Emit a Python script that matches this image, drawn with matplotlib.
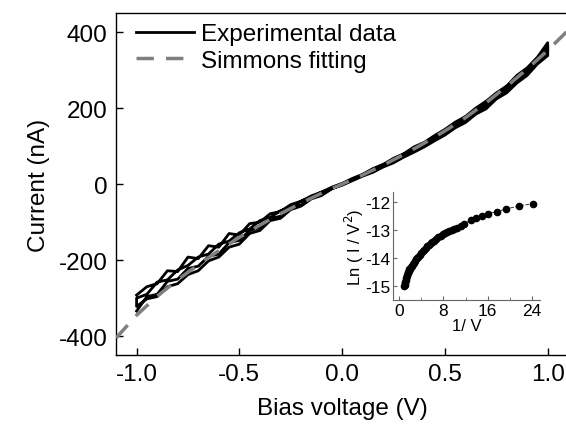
#!/usr/bin/env python3
"""I-V curve with Simmons fit and Fowler-Nordheim style inset."""

import matplotlib

matplotlib.use("Agg")
import matplotlib.pyplot as plt
import numpy as np

GRAY = "#7f7f7f"
INK = "black"

# voltage grid of the measured sweeps (V)
VOLTAGE = np.linspace(-1.0, 1.0, 41)

# measured current (nA), four sweeps, listed in ascending voltage
SWEEP_A = [-292, -270, -262, -228, -230, -192, -196, -162, -166, -130, -134,
           -104, -100, -78, -72, -54, -45, -31, -21, -8, 2, 15, 26, 41, 52, 68,
           80, 98, 110, 128, 144, 163, 178, 200, 218, 240, 258, 286, 306, 334,
           372]
SWEEP_B = [-322, -302, -296, -270, -262, -238, -228, -202, -192, -166, -158,
           -130, -122, -96, -90, -67, -58, -39, -30, -12, -3, 9, 21, 31, 45,
           56, 71, 84, 98, 114, 129, 148, 162, 184, 198, 224, 240, 266, 286,
           316, 338]
SWEEP_C = [-300, -290, -258, -252, -226, -214, -192, -184, -158, -150, -128,
           -118, -96, -88, -70, -61, -45, -35, -21, -12, 1, 12, 25, 37, 51, 63,
           79, 92, 108, 122, 141, 156, 177, 192, 215, 232, 256, 276, 303, 326,
           362]
SWEEP_D = [-334, -296, -290, -256, -250, -222, -216, -190, -184, -154, -148,
           -122, -114, -92, -84, -63, -55, -37, -27, -12, -1, 11, 23, 35, 48,
           60, 74, 88, 103, 118, 135, 151, 170, 188, 207, 226, 250, 270, 296,
           320, 350]

# Simmons fit
FIT_V = [-1.1, -1.0, -0.9, -0.8, -0.7, -0.6, -0.5, -0.4, -0.3, -0.2, -0.1, 0.0,
         0.1, 0.2, 0.3, 0.4, 0.5, 0.6, 0.7, 0.8, 0.9, 1.0, 1.1]
FIT_I = [-405, -345, -295, -252, -212, -175, -140, -108, -78, -50, -24, 0,
         24, 50, 78, 108, 140, 175, 214, 257, 303, 352, 405]

# inset: ln(I/V^2) against 1/V
INV_V = [1.0, 1.05, 1.1, 1.15, 1.2, 1.3, 1.4, 1.5, 1.6, 1.7, 1.8, 1.9, 2.0,
         2.15, 2.3, 2.5, 2.7, 2.9, 3.1, 3.3, 3.5, 3.75, 4.0, 4.25, 4.5, 4.8,
         5.1, 5.4, 5.7, 6.0, 6.3, 6.7, 7.1, 7.5, 7.9, 8.3, 8.7, 9.1, 9.5, 10.0,
         10.5, 11.1, 11.8, 12.9, 13.8, 14.9, 16.1, 17.6, 19.35, 21.6, 24.2]
LN_IV2 = [-15.0, -14.95, -14.9, -14.85, -14.8, -14.72, -14.65, -14.59, -14.54,
          -14.49, -14.45, -14.41, -14.38, -14.33, -14.29, -14.23, -14.17,
          -14.11, -14.05, -14.0, -13.95, -13.89, -13.83, -13.77, -13.71,
          -13.65, -13.59, -13.53, -13.48, -13.43, -13.38, -13.32, -13.26,
          -13.21, -13.16, -13.12, -13.08, -13.04, -13.0, -12.96, -12.92,
          -12.86, -12.78, -12.66, -12.58, -12.5, -12.42, -12.35, -12.25,
          -12.15, -12.06]

plt.rcParams.update(
    {
        "font.family": ["Liberation Sans", "DejaVu Sans"],
        "font.size": 17.5,
        "axes.unicode_minus": False,
        "axes.linewidth": 1.0,
    }
)

fig = plt.figure(figsize=(5.66, 4.27), dpi=100)
ax = fig.add_axes([0.205, 0.166, 0.799, 0.801])

# forward and reverse sweeps joined into one trace
volts = np.concatenate([VOLTAGE, VOLTAGE[::-1], VOLTAGE, VOLTAGE[::-1]])
amps = np.concatenate([SWEEP_A, SWEEP_B[::-1], SWEEP_C, SWEEP_D[::-1]])
ax.plot(volts, amps, color=INK, lw=2.0, label="Experimental data", zorder=2)
ax.plot(FIT_V, FIT_I, color=GRAY, lw=2.5, dashes=(5, 3.5),
        label="Simmons fitting", zorder=3)

ax.set_xlim(-1.1, 1.1)
ax.set_ylim(-450, 450)
ax.set_xticks([-1.0, -0.5, 0.0, 0.5, 1.0])
ax.set_xticklabels(["-1.0", "-0.5", "0.0", "0.5", "1.0"])
ax.set_yticks([-400, -200, 0, 200, 400])
ax.tick_params(direction="in", length=5, width=1.0, labelsize=17.5, pad=6)
ax.set_xlabel("Bias voltage (V)", fontsize=17.5, labelpad=8)
ax.set_ylabel("Current (nA)", fontsize=17.5, labelpad=6)
ax.legend(loc="upper left", bbox_to_anchor=(-0.005, 1.035), frameon=False,
          fontsize=17.5, handlelength=2.4, handletextpad=0.3, labelspacing=0.2)

# inset
ins = fig.add_axes([0.694, 0.295, 0.26, 0.253])
ins.plot(INV_V, LN_IV2, color="#333333", lw=0.7, ls="--", zorder=1)
ins.plot(INV_V, LN_IV2, "o", color=INK, ms=4.5, mec=INK, zorder=2)
ins.set_xlim(-1.1, 25.4)
ins.set_ylim(-15.5, -11.65)
ins.set_xticks([0, 8, 16, 24])
ins.set_xticks([4, 12, 20], minor=True)
ins.set_yticks([-15, -14, -13, -12])
for side in ("top", "right"):
    ins.spines[side].set_visible(False)
for side in ("left", "bottom"):
    ins.spines[side].set_color("#666666")
    ins.spines[side].set_linewidth(0.8)
ins.tick_params(direction="in", length=3, width=0.8, labelsize=12.5, pad=2,
                colors="#666666", labelcolor=INK)
ins.tick_params(which="minor", direction="in", length=2, width=0.6,
                colors="#666666")
ins.set_xlabel("1/ V", fontsize=12, labelpad=0)
ins.set_ylabel("Ln ( I / V$^2$)", fontsize=12, labelpad=-1)

fig.savefig("out.png", dpi=100)
